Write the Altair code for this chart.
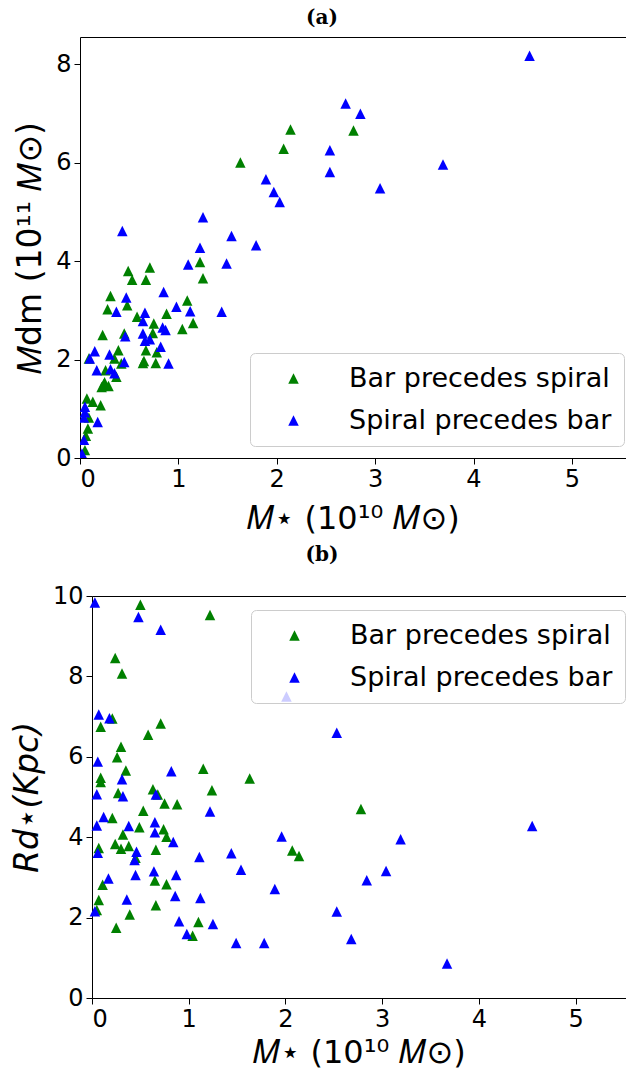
import altair as alt
import pandas as pd

groups = ["Bar precedes spiral", "Spiral precedes bar"]
palette = ["#008000", "#0000ff"]

# ---------- panel (a): M_dm vs M_star ----------
a_bar_x = [2.14, 2.78, 2.07, 1.63, 1.22, 1.25, 0.49, 0.71, 0.53, 0.67, 0.31, 1.09, 0.28, 0.48,
           0.58, 0.88, 0.75, 1.15, 1.04, 0.23, 0.45, 0.74, 0.39, 0.67, 0.78, 0.09, 0.35, 0.42,
           0.64, 0.65, 0.77, 0.26, 0.37, 0.25, 0.22, 0.29, 0.24, 0.07, 0.13, 0.21, 0.09, 0.08,
           0.06, 0.05]
a_bar_y = [6.67, 6.65, 6.28, 6.00, 3.98, 3.65, 3.80, 3.87, 3.62, 3.62, 3.29, 3.20, 3.02, 3.10,
           2.87, 2.93, 2.73, 2.74, 2.62, 2.50, 2.53, 2.54, 2.19, 2.19, 2.15, 2.02, 2.02, 1.92,
           1.93, 1.97, 1.93, 1.78, 1.65, 1.54, 1.44, 1.46, 1.50, 1.21, 1.14, 1.07, 0.82, 0.60,
           0.45, 0.16]
a_spiral_x = [4.57, 2.70, 2.85, 2.54, 3.69, 2.54, 1.89, 1.97, 2.03, 3.05, 1.25, 1.54, 1.79, 1.22,
              1.49, 1.44, 0.43, 1.10, 0.85, 0.47, 0.98, 0.37, 1.12, 0.66, 0.64, 0.84, 0.87, 0.46,
              0.64, 0.66, 0.71, 0.82, 0.15, 0.10, 0.30, 0.45, 0.90, 0.17, 0.31, 0.35, 0.05, 0.05,
              0.04, 0.18, 0.04, 0.02]
a_spiral_y = [8.17, 7.20, 6.99, 6.25, 5.96, 5.81, 5.66, 5.40, 5.20, 5.48, 4.89, 4.51, 4.32, 4.27,
              3.95, 2.97, 4.61, 3.93, 3.37, 3.26, 3.07, 2.97, 2.98, 2.95, 2.78, 2.65, 2.60, 2.47,
              2.53, 2.38, 2.41, 2.26, 2.17, 2.02, 2.10, 1.95, 1.92, 1.78, 1.80, 1.72, 1.04, 0.93,
              0.82, 0.73, 0.37, 0.09]

# ---------- panel (b): Rd_star vs M_star ----------
b_bar_x = [0.50, 1.22, 0.24, 0.31, 0.21, 0.09, 0.71, 0.58, 0.30, 0.26, 0.35, 1.15, 0.09, 1.63,
           0.09, 0.27, 0.63, 0.68, 1.24, 0.75, 0.88, 0.53, 0.21, 0.49, 0.74, 0.32, 0.77, 0.24,
           0.38, 0.30, 0.07, 0.66, 0.45, 0.65, 0.11, 0.77, 0.07, 0.66, 0.05, 0.39, 0.25, 1.10,
           1.04, 2.78, 2.07, 2.14]
b_bar_y = [9.78, 9.53, 8.46, 8.07, 6.95, 6.75, 6.83, 6.55, 6.25, 5.99, 5.66, 5.70, 5.48, 5.46,
           5.37, 5.10, 5.19, 5.06, 5.17, 4.84, 4.82, 4.66, 4.48, 4.25, 4.20, 4.07, 4.01, 3.83,
           3.78, 3.71, 3.73, 3.69, 3.49, 2.92, 2.82, 2.83, 2.44, 2.31, 2.19, 2.08, 1.75, 1.89,
           1.55, 4.70, 3.67, 3.53]
b_spiral_x = [0.03, 0.48, 0.71, 2.01, 0.07, 0.18, 0.06, 0.82, 0.31, 0.05, 0.32, 0.66, 1.22, 0.12,
              0.05, 0.38, 0.65, 0.65, 0.84, 1.96, 0.06, 0.46, 0.44, 1.11, 1.44, 1.54, 0.45, 0.64,
              0.87, 0.17, 0.86, 1.89, 1.12, 0.36, 0.03, 0.90, 1.25, 0.98, 1.49, 1.78, 2.53, 4.55,
              3.19, 3.04, 2.84, 2.53, 2.68, 3.67]
b_spiral_y = [9.84, 9.48, 9.16, 7.50, 7.05, 6.96, 5.88, 5.64, 5.44, 5.07, 5.02, 5.06, 4.64, 4.50,
              4.29, 4.28, 4.37, 4.12, 3.88, 4.02, 3.61, 3.64, 3.43, 3.51, 3.60, 3.19, 3.06, 3.15,
              3.06, 2.97, 2.54, 2.71, 2.49, 2.45, 2.16, 1.91, 1.84, 1.59, 1.37, 1.37, 6.60, 4.28,
              3.95, 3.16, 2.93, 2.15, 1.47, 0.86]

x_ticks = [0, 1, 2, 3, 4, 5]
a_y_ticks = [0, 2, 4, 6, 8]
b_y_ticks = [0, 2, 4, 6, 8, 10]

TRI = "M0,-1L-1,1L1,1Z"
W = 546


def frame(bx, by, sx, sy):
    return pd.DataFrame({
        "x": bx + sx,
        "y": by + sy,
        "g": [groups[0]] * len(bx) + [groups[1]] * len(sx),
        "o": list(range(len(bx) + len(sx))),
    })


def panel(df, title, toff, xoff, height, xmax, ydom, yticks, ytitle, ystyle,
          xtpad, lx, ly):
    xscale = alt.Scale(domain=[0, xmax], range=[xoff, W], nice=False, zero=False)
    pts = alt.Chart(df).mark_point(
        shape=TRI, filled=True, size=110, opacity=1, strokeWidth=0, clip=True
    ).encode(
        x=alt.X("x:Q", scale=xscale,
                axis=alt.Axis(values=x_ticks, title="𝑀⋆ (10¹⁰ 𝑀⊙)", grid=False,
                              titlePadding=xtpad)),
        y=alt.Y("y:Q", scale=alt.Scale(domain=ydom, nice=False, zero=False),
                axis=alt.Axis(values=yticks, title=ytitle, grid=False, titleFontStyle=ystyle,
                              offset=-xoff)),
        color=alt.Color("g:N", scale=alt.Scale(domain=groups, range=palette),
                        legend=alt.Legend(title=None, orient="none", legendX=lx, legendY=ly)),
        order=alt.Order("o:Q"),
    )
    top = alt.Chart(df).mark_point(opacity=0).encode(
        x=alt.X("x:Q", scale=xscale,
                axis=alt.Axis(orient="top", labels=False, ticks=False, title="", grid=False,
                              domain=True)),
    )
    return alt.layer(pts, top).resolve_axis(x="independent").properties(
        width=W, height=height,
        title=alt.TitleParams(title, font="DejaVu Serif", fontWeight="bold", fontSize=20,
                              dx=-31, offset=toff, color="black"),
    )


chart_a = panel(frame(a_bar_x, a_bar_y, a_spiral_x, a_spiral_y), "(a)", 9, 0, 421, 5.55,
                [0, 8.55], a_y_ticks, "𝑀dm (10¹¹ 𝑀⊙)", "normal", 12, 170, 316)
chart_b = panel(frame(b_bar_x, b_bar_y, b_spiral_x, b_spiral_y), "(b)", 19, 12, 402, 5.52,
                [0, 10], b_y_ticks, "Rd⋆(Kpc)", "italic", 6, 171, 14)

chart = alt.vconcat(chart_a, chart_b, spacing=11).resolve_legend(
    color="independent"
).properties(
    padding={"left": 3, "top": 0, "right": 0, "bottom": 3},
).configure_view(
    stroke=None
).configure_axis(
    labelFont="DejaVu Sans", labelFontSize=24, labelColor="black", labelPadding=3,
    titleFont="DejaVu Sans", titleFontSize=33, titleFontWeight="normal", titleColor="black",
    titlePadding=8, tickColor="black", tickSize=6, domainColor="black", domainWidth=1,
).configure_axisX(
    titleFontSize=32,
).configure_legend(
    labelFont="DejaVu Sans", labelFontSize=27, labelColor="black", labelLimit=500,
    symbolType=TRI, symbolSize=110, symbolStrokeWidth=0, symbolOffset=18,
    labelOffset=42, rowPadding=14, padding=12, fillColor="rgba(255,255,255,0.8)",
    strokeColor="#cccccc", cornerRadius=5,
)

chart.save("out.html", embed_options={"renderer": "svg", "actions": False})
